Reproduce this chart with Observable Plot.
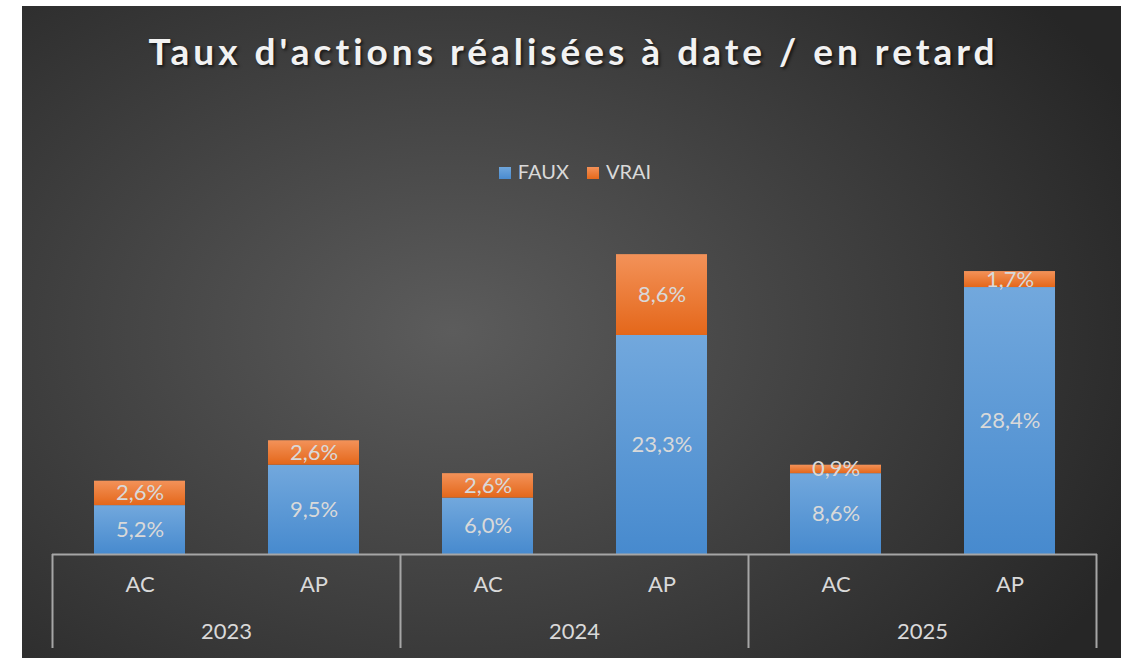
<!DOCTYPE html>
<html>
<head>
<meta charset="utf-8">
<script src="https://cdn.jsdelivr.net/npm/d3@7"></script>
<script src="https://cdn.jsdelivr.net/npm/@observablehq/plot@0.6"></script>
<style>
  html, body { margin: 0; padding: 0; background: #ffffff; }
  #wrap { position: relative; width: 1131px; height: 658px; overflow: hidden; }
  #bg { position: absolute; left: 22px; top: 6px; width: 1099px; height: 652px;
        background: radial-gradient(ellipse 760px 520px at 430px 325px, #5c5c5c 0%, #262626 100%); }
  #title { position: absolute; left: 22px; width: 1103px; top: 32px; text-align: center;
           font-family: Lato, "Open Sans", sans-serif; font-weight: 700; font-size: 37px; line-height: 37px;
           letter-spacing: 4px; color: #f2f2f2; text-shadow: 2px 2px 3px rgba(0,0,0,0.6); white-space: nowrap; }
  #legend { position: absolute; left: 0; width: 1150px; top: 162px; display: flex; justify-content: center;
            font-family: Lato, "Open Sans", sans-serif; font-size: 20px; line-height: 19px; color: #d9d9d9; }
  #legend .item { display: flex; align-items: center; margin: 0 9px; }
  #legend .sw { width: 12px; height: 12px; margin-right: 7px; margin-top: 2px; }
  #chart { position: absolute; left: 0; top: 0; }
</style>
</head>
<body>
<div id="wrap">
  <div id="bg"></div>
  <div id="title"></div>
  <div id="legend"></div>
  <div id="chart"></div>
</div>
<script>
const title = "Taux d'actions réalisées à date / en retard";
const years = ["2023", "2024", "2025"];
const groups = ["AC", "AP"];
const series = ["FAUX", "VRAI"];
const fauxValues = [5.2, 9.5, 6.0, 23.3, 8.6, 28.4];
const vraiValues = [2.6, 2.6, 2.6, 8.6, 0.9, 1.7];

document.getElementById("title").textContent = title;
const legend = document.getElementById("legend");
series.forEach(s => {
  const it = document.createElement("div");
  it.className = "item";
  const sw = document.createElement("span");
  sw.className = "sw";
  sw.style.background = s === "FAUX" ? "linear-gradient(#6fa6dc,#4a8bcf)" : "linear-gradient(#f39158,#e5691b)";
  const tx = document.createElement("span");
  tx.textContent = s;
  it.appendChild(sw); it.appendChild(tx);
  legend.appendChild(it);
});

const keys = [];
years.forEach(y => groups.forEach(g => keys.push(y + " " + g)));
const data = [];
keys.forEach((k, i) => {
  data.push({ key: k, series: "FAUX", value: fauxValues[i] });
  data.push({ key: k, series: "VRAI", value: vraiValues[i] });
});
const fmt = v => v.toFixed(1).replace(".", ",") + "%";

function defsMark() {
  const defs = d3.create("svg:defs");
  const mk = (id, c1, c2) => {
    const g = defs.append("linearGradient").attr("id", id).attr("x1", 0).attr("y1", 0).attr("x2", 0).attr("y2", 1);
    g.append("stop").attr("offset", "0%").attr("stop-color", c1);
    g.append("stop").attr("offset", "100%").attr("stop-color", c2);
  };
  mk("gFAUX", "#72a8dd", "#478ace");
  mk("gVRAI", "#f39259", "#e4671a");
  const f = defs.append("filter").attr("id", "shadow").attr("x", "-20%").attr("y", "-20%").attr("width", "150%").attr("height", "150%");
  f.append("feDropShadow").attr("dx", 2).attr("dy", 2).attr("stdDeviation", 3).attr("flood-color", "#000").attr("flood-opacity", 0.45);
  return defs.node();
}

const plot = Plot.plot({
  width: 1131,
  height: 658,
  marginLeft: 52,
  marginRight: 34,
  marginTop: 225,
  marginBottom: 104,
  style: { background: "transparent", color: "#d9d9d9", fontFamily: "Lato, 'Open Sans', sans-serif", fontSize: "22px", overflow: "visible" },
  x: { domain: keys, paddingInner: 0.475, paddingOuter: 0.2375, axis: null },
  y: { domain: [0, 35], axis: null },
  color: { type: "ordinal", domain: series, range: ["url(#gFAUX)", "url(#gVRAI)"] },
  marks: [
    defsMark,
    Plot.barY(data, { x: "key", y: "value", fill: "series", z: "series", style: "filter:url(#shadow)" }),
    Plot.ruleY([0], { stroke: "#a6a6a6", strokeWidth: 2 }),
    Plot.text(data, Plot.stackY({ x: "key", y: "value", z: "series", text: d => fmt(d.value), fill: "#d9d9d9", fontSize: 22 })),
    Plot.text(keys, { x: d => d, text: d => d.split(" ")[1], frameAnchor: "bottom", dy: 37, fill: "#d9d9d9", fontSize: 22 })
  ]
});

// Multi-level axis: separators and year labels positioned from the plot's own x scale
const sx = plot.scale("x");
const gap = sx.step - sx.bandwidth;
const svg = d3.select(plot);
const base = 658 - 104;
const sepGroup = svg.append("g").attr("stroke", "#a6a6a6").attr("stroke-width", 2);
const yearGroup = svg.append("g").attr("fill", "#d9d9d9").attr("font-size", 22).attr("text-anchor", "middle");
years.forEach((y, i) => {
  const x0 = sx.apply(y + " AC") - gap / 2;
  const x1 = sx.apply(y + " AP") + sx.bandwidth + gap / 2;
  sepGroup.append("line").attr("x1", x0).attr("x2", x0).attr("y1", base).attr("y2", base + 94);
  if (i === years.length - 1) sepGroup.append("line").attr("x1", x1).attr("x2", x1).attr("y1", base).attr("y2", base + 94);
  yearGroup.append("text").attr("x", (x0 + x1) / 2).attr("y", base + 85).text(y);
});

document.getElementById("chart").appendChild(plot);
</script>
</body>
</html>
